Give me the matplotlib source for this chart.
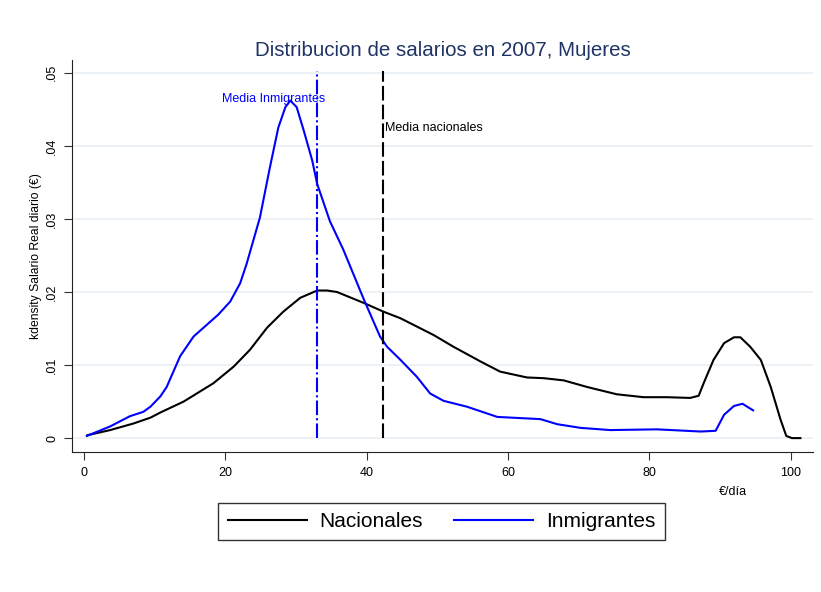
import matplotlib.pyplot as plt

plt.rcParams['font.family'] = ['Liberation Sans', 'DejaVu Sans']

# kdensity curves
x_nac = [0.5, 3.7, 7.0, 9.4, 10.8, 14.1, 18.3, 21.2, 23.5, 25.9, 28.2, 30.6, 33.0, 34.4, 35.8,
         39.6, 42.4, 44.8, 49.5, 52.3, 56.1, 58.9, 62.7, 65.1, 67.9, 71.2, 75.4, 79.2, 82.5, 85.8,
         87.0, 87.7, 89.1, 90.6, 92.0, 92.9, 94.3, 95.8, 97.2, 98.6, 99.4, 100.2, 101.4]
y_nac = [0.0004, 0.0011, 0.0020, 0.0028, 0.0035, 0.0050, 0.0075, 0.0098, 0.0121, 0.0151, 0.0173,
         0.0192, 0.0202, 0.0202, 0.0200, 0.0185, 0.0173, 0.0164, 0.0141, 0.0125, 0.0105, 0.0091,
         0.0083, 0.0082, 0.0079, 0.0070, 0.0060, 0.0056, 0.0056, 0.0055, 0.0058, 0.0075, 0.0107,
         0.0130, 0.0138, 0.0138, 0.0125, 0.0107, 0.0070, 0.0025, 0.0003, 0.0000, 0.0000]

x_inm = [0.4, 3.7, 6.5, 8.4, 9.4, 10.8, 11.7, 13.6, 15.5, 16.9, 19.0, 20.7, 22.1, 23.0, 24.9,
         26.3, 27.5, 28.5, 29.2, 30.1, 31.1, 32.3, 33.0, 34.8, 36.7, 39.6, 41.9, 42.9, 44.8, 47.1,
         49.0, 50.9, 54.2, 58.5, 64.6, 67.0, 70.3, 74.5, 81.1, 87.3, 89.4, 90.6, 92.0, 93.2, 94.7]
y_inm = [0.0003, 0.0016, 0.0030, 0.0036, 0.0043, 0.0057, 0.0070, 0.0112, 0.0139, 0.0151, 0.0169,
         0.0187, 0.0212, 0.0238, 0.0302, 0.0370, 0.0425, 0.0453, 0.0462, 0.0453, 0.0421, 0.0380,
         0.0348, 0.0297, 0.0258, 0.0190, 0.0139, 0.0125, 0.0107, 0.0084, 0.0061, 0.0051, 0.0043,
         0.0029, 0.0026, 0.0019, 0.0014, 0.0011, 0.0012, 0.0009, 0.0010, 0.0032, 0.0044, 0.0047,
         0.0038]

media_inm = 33.0
media_nac = 42.3

xticks = [0, 20, 40, 60, 80, 100]
yticks = [0, 0.01, 0.02, 0.03, 0.04, 0.05]
ytick_labels = ['0', '.01', '.02', '.03', '.04', '.05']

fig = plt.figure(figsize=(8.21, 5.92), dpi=100)
ax = fig.add_axes([0.0877, 0.2365, 0.9027, 0.6615])

ax.plot(x_nac, y_nac, color='black', lw=1.5, label='Nacionales')
ax.plot(x_inm, y_inm, color='blue', lw=1.5, label='Inmigrantes')
ax.vlines(media_inm, 0, 0.0502, color='blue', lw=1.5, linestyles=(0, (7, 1.5, 1, 1.5)))
ax.vlines(media_nac, 0, 0.0502, color='black', lw=1.5, linestyles=(0, (7, 2)))
ax.text(26.9, 0.0464, 'Media Inmigrantes', color='blue', fontsize=9, ha='center', va='center')
ax.text(42.6, 0.0425, 'Media nacionales', color='black', fontsize=9, ha='left', va='center')

ax.set_xlim(-1.7, 103.2)
ax.set_ylim(-0.0019, 0.0517)
ax.set_xticks(xticks)
ax.set_yticks(yticks)
ax.set_yticklabels(ytick_labels, rotation=90, va='center')
ax.tick_params(axis='both', labelsize=9, length=6, color='#333333', pad=5)
ax.tick_params(axis='y', pad=4)
ax.grid(axis='y', color='#e8eff2', lw=1.2)
ax.set_axisbelow(True)
for s in ['top', 'right']:
    ax.spines[s].set_visible(False)
for s in ['left', 'bottom']:
    ax.spines[s].set_color('#222222')

ax.set_ylabel('kdensity Salario Real diario (€)', fontsize=8.7)
ax.yaxis.set_label_coords(-0.041, 0.5)
ax.set_xlabel('€/día', fontsize=9)
ax.xaxis.set_label_coords(0.892, -0.088)
ax.set_title('Distribucion de salarios en 2007, Mujeres', color='#1f3465', fontsize=14.8, pad=2)

leg = fig.legend(loc='center', bbox_to_anchor=(0.5378, 0.119), ncol=2, fontsize=15, frameon=True,
                 fancybox=False, edgecolor='black', handlelength=3.8, columnspacing=1.5,
                 borderpad=0.45, handletextpad=0.6)
leg.get_frame().set_linewidth(1)

fig.savefig('out.png', dpi=100)
